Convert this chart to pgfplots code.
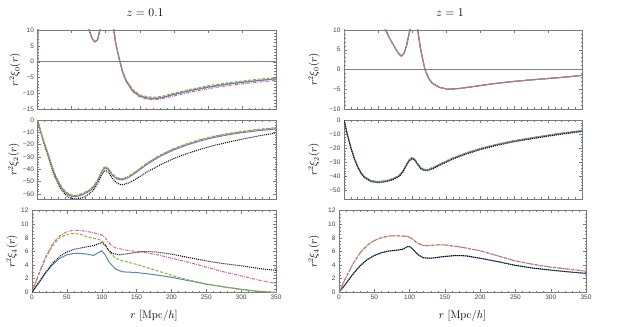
\documentclass[border=0pt]{standalone}
\usepackage{fontspec}
\usepackage{pgfplots}
\pgfplotsset{compat=1.18}
\newfontfamily\ticksf{Liberation Sans}

\definecolor{mblue}{HTML}{5E81B5}
\definecolor{mgreen}{HTML}{8FB032}
\definecolor{mpink}{HTML}{D0609A}
\definecolor{framegray}{HTML}{7A7A7A}
\definecolor{ticktext}{HTML}{404040}

\pgfplotsset{
  panel/.style={
    scale only axis, anchor=south west,
    xmin=0, xmax=350, xtick={0,50,...,350}, minor x tick num=4,
    tick align=inside, major tick length=3pt, minor tick length=1.5pt,
    axis line style={framegray, line width=0.5pt},
    every tick/.style={framegray, line width=0.4pt},
    tick label style={font=\ticksf\fontsize{6.5}{7}\selectfont, text=ticktext},
    xticklabel style={yshift=1pt},
    ylabel style={font=\fontsize{10.5}{12}\selectfont, anchor=center},
    every axis plot/.append style={line width=1pt},
  },
  noxlabels/.style={xticklabels={}},
  withx/.style={xticklabels={0,50,100,150,200,250,300,350},
    xlabel={$r$ [Mpc/$h$]},
    xlabel style={font=\fontsize{11}{13}\selectfont, at={(axis description cs:0.5,-0.29)}, anchor=center}},
  sblue/.style={mblue, solid},
  sgreen/.style={mgreen, dash pattern=on 3pt off 1.6pt},
  spink/.style={mpink, dash pattern=on 3pt off 1.2pt on 0.8pt off 1.2pt},
  sblack/.style={black, dash pattern=on 1pt off 1pt},
  zeroline/.style={gray, line width=0.5pt, solid},
}

\begin{document}
\begin{tikzpicture}
\path[use as bounding box] (0pt,0pt) rectangle (622pt,327pt);

\node at (145pt,314pt) {\fontsize{13}{15}\selectfont $z = 0.1$};
\node at (450pt,314pt) {\fontsize{13}{15}\selectfont $z = 1$};

% ---------- z = 0.1, monopole
\begin{axis}[panel, noxlabels, at={(37.5pt,217.7pt)}, width=238.5pt, height=79.3pt,
  ymin=-15, ymax=10, ytick={-15,-10,-5,0,5,10}, minor y tick num=4,
  yticklabels={−15,−10,−5,0,5,10},
  ylabel={$r^2\xi_0(r)$}, ylabel style={at={(axis description cs:-0.094,0.5)}}]
\addplot[zeroline] coordinates {(0,0) (350,0)};
\addplot[sblack] coordinates {
 (0,0) (0.5,12) (2,30) (10,60) (30,50) (50,30) (65,18) (72,12.5) (76,9.8) (80,7.4) (84,6.2) (88,6.9)
 (91,9.5) (94,13) (100,25) (105,24) (109,15) (112,10) (115,5.5) (121,0) (125,-3.2) (130,-6.0)
 (140,-9.2) (150,-10.8) (160,-11.4) (170,-11.6) (180,-11.4) (190,-10.9) (200,-10.3) (220,-9.3)
 (250,-8.0) (280,-7.0) (300,-6.5) (325,-5.9) (350,-5.4)};
\addplot[sblue] coordinates {
 (0,0) (0.5,12) (2,30) (10,60) (30,50) (50,30) (65,18) (72,12.5) (76,9.8) (80,7.4) (84,6.2) (88,6.9)
 (91,9.5) (94,13) (100,25) (105,24) (109,15) (112,10) (115,5.5) (121,0) (125,-3.2) (130,-6.0)
 (140,-9.2) (150,-10.8) (160,-11.4) (170,-11.6) (180,-11.4) (190,-10.9) (200,-10.3) (220,-9.3)
 (250,-8.0) (280,-7.0) (300,-6.5) (325,-5.9) (350,-5.4)};
\addplot[sgreen] coordinates {
 (0,0) (0.5,12) (2,30) (10,60) (30,50) (50,30) (65,18) (72,12.5) (76,9.8) (80,7.4) (84,6.2) (88,6.9)
 (91,9.5) (94,13) (100,25) (105,24) (109,15) (112,10) (115,5.6) (121,0.2) (125,-3.0) (130,-5.7)
 (140,-8.8) (150,-10.4) (160,-11.0) (170,-11.2) (180,-11.0) (190,-10.5) (200,-9.9) (220,-8.9)
 (250,-7.6) (280,-6.6) (300,-6.1) (325,-5.5) (350,-5.0)};
\addplot[spink] coordinates {
 (0,0) (0.5,12) (2,30) (10,60) (30,50) (50,30) (65,18) (72,12.5) (76,9.8) (80,7.4) (84,6.2) (88,6.9)
 (91,9.5) (94,13) (100,25) (105,24) (109,15) (112,10) (115,5.4) (121,-0.2) (125,-3.5) (130,-6.3)
 (140,-9.5) (150,-11.1) (160,-11.8) (170,-12.0) (180,-11.8) (190,-11.3) (200,-10.8) (220,-9.8)
 (250,-8.5) (280,-7.5) (300,-7.0) (325,-6.4) (350,-5.9)};
\end{axis}

% ---------- z = 0.1, quadrupole
\begin{axis}[panel, noxlabels, at={(37.5pt,128pt)}, width=238.5pt, height=79pt,
  ymin=-64.2, ymax=0, ytick={-60,-50,...,0}, minor y tick num=4,
  yticklabels={−60,−50,−40,−30,−20,−10,0},
  ylabel={$r^2\xi_2(r)$}, ylabel style={at={(axis description cs:-0.1,0.5)}}]
\addplot[sblack] coordinates {
 (0,0) (5,-10.5) (10,-20) (15,-28.5) (20,-37.5) (25,-45.5) (30,-51.5) (35,-56.5) (40,-60) (45,-62.5)
 (50,-63.8) (55,-64.2) (60,-64) (67,-63) (75,-60.5) (82,-57) (88,-52) (93,-46) (97,-42) (100,-41)
 (104,-42.5) (110,-47.5) (117,-51.5) (124,-52.7) (132,-51.5) (140,-49.3) (150,-46) (160,-42.5)
 (180,-36.5) (200,-31.3) (220,-27.2) (240,-23.6) (260,-20.6) (280,-18) (300,-15.6) (325,-12.9) (350,-10.5)};
\addplot[sblue] coordinates {
 (0,0) (5,-10) (10,-19) (15,-27) (20,-36) (25,-44) (30,-50) (35,-55) (40,-58.5) (45,-60.8) (50,-62)
 (55,-62.3) (60,-61.8) (67,-60.5) (75,-58.3) (82,-55) (88,-50) (93,-44) (97,-40) (100,-39) (104,-40.5)
 (110,-45) (117,-48) (124,-48.7) (132,-47.2) (140,-44.5) (150,-40.5) (160,-36.3) (180,-29.5)
 (200,-24.3) (220,-20.2) (240,-16.8) (260,-14.1) (280,-12.0) (300,-10.3) (325,-8.6) (350,-7.3)};
\addplot[spink] coordinates {
 (0,0) (5,-9.8) (10,-18.7) (15,-26.6) (20,-35.4) (25,-43.3) (30,-49.2) (35,-54.2) (40,-57.7) (45,-60)
 (50,-61.2) (55,-61.5) (60,-61) (67,-59.7) (75,-57.5) (82,-54.2) (88,-49.2) (93,-43.2) (97,-39.2)
 (100,-38.2) (104,-39.7) (110,-44.2) (117,-47.2) (124,-47.9) (132,-46.4) (140,-43.7) (150,-39.7)
 (160,-35.5) (180,-28.7) (200,-23.5) (220,-19.4) (240,-16) (260,-13.3) (280,-11.2) (300,-9.5) (325,-7.8) (350,-6.5)};
\addplot[sgreen] coordinates {
 (0,0) (5,-9.8) (10,-18.6) (15,-26.4) (20,-35.2) (25,-43) (30,-48.9) (35,-53.9) (40,-57.4) (45,-59.7)
 (50,-60.9) (55,-61.2) (60,-60.7) (67,-59.4) (75,-57.2) (82,-53.9) (88,-48.9) (93,-42.9) (97,-38.9)
 (100,-37.9) (104,-39.4) (110,-43.9) (117,-46.9) (124,-47.6) (132,-46.1) (140,-43.4) (150,-39.4)
 (160,-35.2) (180,-28.4) (200,-23.2) (220,-19.1) (240,-15.7) (260,-13.0) (280,-10.9) (300,-9.2) (325,-7.5) (350,-6.2)};
\end{axis}

% ---------- z = 0.1, hexadecapole
\begin{axis}[panel, withx, at={(32pt,34.7pt)}, width=244pt, height=81.8pt,
  ymin=0, ymax=12, ytick={0,2,...,12}, minor y tick num=3,
  yticklabels={0,2,4,6,8,10,12},
  ylabel={$r^2\xi_4(r)$}, ylabel style={at={(axis description cs:-0.082,0.5)}}]
\addplot[sblue] coordinates {
 (0,0) (10,1.4) (20,2.9) (30,4.1) (40,5.0) (50,5.5) (60,5.7) (70,5.7) (80,5.6) (88,5.4) (95,5.8)
 (100,6.1) (105,5.5) (110,4.5) (120,3.4) (130,3.0) (150,2.9) (175,2.6) (200,2.2) (225,1.7) (250,1.2)
 (275,0.8) (300,0.45) (325,0.12) (340,0) (350,-0.1)};
\addplot[sgreen] coordinates {
 (0,0) (10,2.7) (20,5.1) (30,6.9) (40,8.0) (50,8.5) (60,8.65) (70,8.5) (80,8.1) (90,7.9) (100,7.6)
 (105,7.0) (110,6.0) (120,5.0) (130,4.6) (150,4.1) (175,3.3) (200,2.5) (225,1.8) (250,1.2) (275,0.8)
 (300,0.4) (325,0.15) (350,0.0)};
\addplot[spink] coordinates {
 (0,0) (10,2.8) (20,5.3) (30,7.2) (40,8.3) (50,8.9) (60,9.1) (70,9.05) (80,8.9) (90,8.7) (100,8.4)
 (105,8.0) (110,7.3) (115,6.8) (120,6.5) (130,6.3) (140,6.1) (150,6.0) (160,5.85) (180,5.5) (200,5.0)
 (225,4.4) (250,3.7) (275,3.0) (300,2.4) (325,1.8) (350,1.3)};
\addplot[sblack] coordinates {
 (0,0) (10,1.5) (20,3.0) (30,4.3) (40,5.3) (50,5.9) (60,6.3) (70,6.5) (80,6.7) (90,6.9) (100,7.3)
 (105,6.9) (110,6.2) (115,5.7) (125,5.5) (140,5.7) (160,6.0) (180,5.9) (200,5.6) (225,5.1) (250,4.6)
 (275,4.2) (300,3.9) (325,3.5) (350,3.2)};
\end{axis}

% ---------- z = 1, monopole
\begin{axis}[panel, noxlabels, at={(344pt,218pt)}, width=238pt, height=79pt,
  ymin=-10, ymax=10, ytick={-10,-5,0,5,10}, minor y tick num=4,
  yticklabels={−10,−5,0,5,10},
  ylabel={$r^2\xi_0(r)$}, ylabel style={at={(axis description cs:-0.126,0.5)}}]
\addplot[zeroline] coordinates {(0,0) (350,0)};
\addplot[sblack] coordinates {
 (0,0) (0.5,12) (2,30) (10,50) (30,35) (50,18) (60,10.5) (65,8.6) (70,7.0) (75,5.5) (80,4.1) (84,3.4)
 (88,4.0) (92,6.0) (96,9.3) (100,13) (104,14) (108,10.5) (112,5.8) (115,3.2) (119,0) (125,-2.4)
 (130,-3.5) (140,-4.5) (153,-5.0) (170,-4.8) (195,-4.2) (220,-3.6) (245,-3.1) (270,-2.7) (295,-2.35)
 (320,-2.0) (350,-1.5)};
\addplot[sblue] coordinates {
 (0,0) (0.5,12) (2,30) (10,50) (30,35) (50,18) (60,10.5) (65,8.6) (70,7.0) (75,5.5) (80,4.1) (84,3.4)
 (88,4.0) (92,6.0) (96,9.3) (100,13) (104,14) (108,10.5) (112,5.8) (115,3.2) (119,0) (125,-2.4)
 (130,-3.5) (140,-4.5) (153,-5.0) (170,-4.8) (195,-4.2) (220,-3.6) (245,-3.1) (270,-2.7) (295,-2.35)
 (320,-2.0) (350,-1.5)};
\addplot[sgreen] coordinates {
 (0,0) (0.5,12) (2,30) (10,50) (30,35) (50,18) (60,10.5) (65,8.6) (70,7.0) (75,5.5) (80,4.1) (84,3.4)
 (88,4.0) (92,6.0) (96,9.3) (100,13) (104,14) (108,10.5) (112,5.8) (115,3.2) (119,0) (125,-2.4)
 (130,-3.5) (140,-4.5) (153,-5.0) (170,-4.8) (195,-4.2) (220,-3.6) (245,-3.1) (270,-2.7) (295,-2.35)
 (320,-2.0) (350,-1.5)};
\addplot[spink] coordinates {
 (0,0) (0.5,12) (2,30) (10,50) (30,35) (50,18) (60,10.5) (65,8.6) (70,7.0) (75,5.5) (80,4.1) (84,3.4)
 (88,4.0) (92,6.0) (96,9.3) (100,13) (104,14) (108,10.5) (112,5.8) (115,3.2) (119,0) (125,-2.4)
 (130,-3.5) (140,-4.5) (153,-5.0) (170,-4.8) (195,-4.2) (220,-3.6) (245,-3.1) (270,-2.7) (295,-2.35)
 (320,-2.0) (350,-1.5)};
\end{axis}

% ---------- z = 1, quadrupole
\begin{axis}[panel, noxlabels, at={(344pt,128pt)}, width=238pt, height=79pt,
  ymin=-56, ymax=0, ytick={-50,-40,...,0}, minor y tick num=4,
  yticklabels={−50,−40,−30,−20,−10,0},
  ylabel={$r^2\xi_2(r)$}, ylabel style={at={(axis description cs:-0.126,0.5)}}]
\addplot[spink] coordinates {
 (0,0) (5,-10.3) (10,-19.2) (15,-26.6) (20,-32.6) (25,-37.1) (30,-40.1) (40,-42.9) (50,-43.6) (60,-43.1)
 (70,-41.8) (80,-39.6) (86,-36.6) (91,-32.1) (96,-28.1) (100,-26.6) (104,-27.6) (108,-30.6) (113,-33.8)
 (118,-35) (124,-34.9) (132,-33.4) (140,-31.4) (160,-26.9) (180,-23.2) (200,-20.2) (225,-17.1) (250,-14.6)
 (275,-12.6) (300,-10.7) (325,-8.9) (350,-7.4)};
\addplot[sgreen] coordinates {
 (0,0) (5,-10.3) (10,-19.2) (15,-26.6) (20,-32.6) (25,-37.1) (30,-40.1) (40,-42.9) (50,-43.6) (60,-43.1)
 (70,-41.8) (80,-39.6) (86,-36.6) (91,-32.1) (96,-28.1) (100,-26.6) (104,-27.6) (108,-30.6) (113,-33.8)
 (118,-35) (124,-34.9) (132,-33.4) (140,-31.4) (160,-26.9) (180,-23.2) (200,-20.2) (225,-17.1) (250,-14.6)
 (275,-12.6) (300,-10.7) (325,-8.9) (350,-7.4)};
\addplot[sblue] coordinates {
 (0,0) (5,-10.5) (10,-19.5) (15,-27) (20,-33) (25,-37.5) (30,-40.5) (40,-43.3) (50,-44) (60,-43.5)
 (70,-42.2) (80,-40) (86,-37) (91,-32.5) (96,-28.5) (100,-27) (104,-28) (108,-31) (113,-34.2) (118,-35.4)
 (124,-35.3) (132,-33.8) (140,-31.8) (160,-27.3) (180,-23.6) (200,-20.6) (225,-17.5) (250,-15)
 (275,-13) (300,-11.1) (325,-9.3) (350,-7.8)};
\addplot[sblack] coordinates {
 (0,0) (5,-10.6) (10,-19.7) (15,-27.3) (20,-33.4) (25,-37.9) (30,-40.9) (40,-43.8) (50,-44.5) (60,-44)
 (70,-42.7) (80,-40.5) (86,-37.5) (91,-33) (96,-29) (100,-27.4) (104,-28.4) (108,-31.5) (113,-34.7)
 (118,-35.9) (124,-35.8) (132,-34.3) (140,-32.3) (160,-27.8) (180,-24.1) (200,-21.1) (225,-18)
 (250,-15.5) (275,-13.4) (300,-11.5) (325,-9.7) (350,-8.2)};
\end{axis}

% ---------- z = 1, hexadecapole
\begin{axis}[panel, withx, at={(339pt,34.7pt)}, width=247pt, height=81.8pt,
  ymin=0, ymax=12, ytick={0,2,...,12}, minor y tick num=3,
  yticklabels={0,2,4,6,8,10,12},
  ylabel={$r^2\xi_4(r)$}, ylabel style={at={(axis description cs:-0.101,0.5)}}]
\addplot[sblue] coordinates {
 (0,0) (10,1.3) (20,2.7) (30,3.9) (40,4.8) (50,5.4) (60,5.8) (70,6.05) (80,6.15) (90,6.3) (97,6.7)
 (100,6.7) (105,6.3) (112,5.5) (120,5.05) (130,5.0) (145,5.2) (165,5.4) (180,5.35) (200,5.0)
 (225,4.5) (250,3.95) (275,3.55) (300,3.25) (325,3.0) (350,2.75)};
\addplot[sblack] coordinates {
 (0,0) (10,1.3) (20,2.7) (30,3.9) (40,4.8) (50,5.4) (60,5.8) (70,6.05) (80,6.15) (90,6.3) (97,6.7)
 (100,6.7) (105,6.3) (112,5.5) (120,5.05) (130,5.0) (145,5.2) (165,5.4) (180,5.35) (200,5.0)
 (225,4.5) (250,3.95) (275,3.55) (300,3.25) (325,3.0) (350,2.8)};
\addplot[sgreen] coordinates {
 (0,0) (10,2.2) (20,4.2) (30,5.8) (40,6.9) (50,7.6) (60,8.0) (70,8.25) (80,8.3) (90,8.25) (97,8.2)
 (103,7.9) (110,7.3) (118,6.9) (125,6.85) (140,6.95) (150,6.95) (175,6.6) (200,6.1) (225,5.35)
 (250,4.6) (275,4.1) (300,3.7) (325,3.4) (350,3.1)};
\addplot[spink] coordinates {
 (0,0) (10,2.2) (20,4.2) (30,5.8) (40,6.9) (50,7.6) (60,8.0) (70,8.25) (80,8.3) (90,8.25) (97,8.2)
 (103,7.9) (110,7.3) (118,6.9) (125,6.85) (140,6.95) (150,6.95) (175,6.6) (200,6.1) (225,5.35)
 (250,4.6) (275,4.1) (300,3.7) (325,3.4) (350,3.1)};
\end{axis}
\end{tikzpicture}
\end{document}
